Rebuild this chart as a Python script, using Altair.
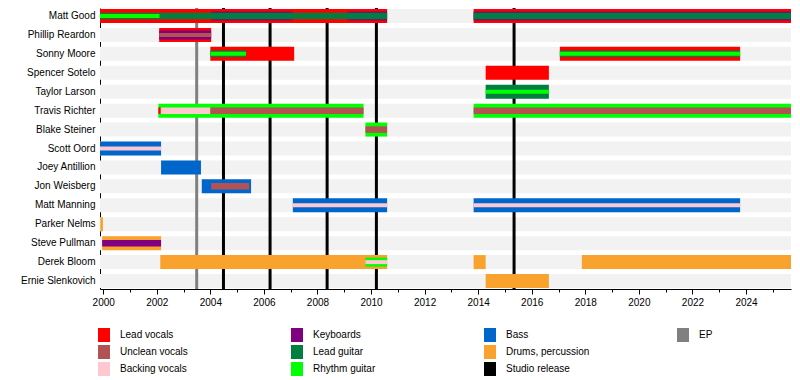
import altair as alt
import pandas as pd

# ---------------- data ----------------
members = ["Matt Good", "Phillip Reardon", "Sonny Moore", "Spencer Sotelo",
           "Taylor Larson", "Travis Richter", "Blake Steiner", "Scott Oord",
           "Joey Antillion", "Jon Weisberg", "Matt Manning", "Parker Nelms",
           "Steve Pullman", "Derek Bloom", "Ernie Slenkovich"]

t_start = 1999.88
t_end = 2025.68

# legend order (filled column by column, 3 rows; the blank keeps the grid even)
legend_roles = ["Lead vocals", "Unclean vocals", "Backing vocals",
                "Keyboards", "Lead guitar", "Rhythm guitar",
                "Bass", "Drums, percussion", "Studio release",
                "EP", " "]
legend_colors = ["#FF0000", "#B25252", "#FFC8D0",
                 "#800080", "#007F3F", "#00FF00",
                 "#0066CC", "#FAA22E", "#000000",
                 "#808080", "transparent"]

# membership segments: member, role, start, end, layer (0 = main bar, 1..3 = inner bars)
seg_member = [
    "Matt Good", "Matt Good", "Matt Good", "Matt Good", "Matt Good", "Matt Good", "Matt Good", "Matt Good",
    "Phillip Reardon", "Phillip Reardon", "Phillip Reardon",
    "Sonny Moore", "Sonny Moore", "Sonny Moore", "Sonny Moore", "Sonny Moore", "Sonny Moore",
    "Spencer Sotelo",
    "Taylor Larson", "Taylor Larson",
    "Travis Richter", "Travis Richter", "Travis Richter", "Travis Richter", "Travis Richter", "Travis Richter",
    "Blake Steiner", "Blake Steiner",
    "Scott Oord", "Scott Oord",
    "Joey Antillion",
    "Jon Weisberg", "Jon Weisberg",
    "Matt Manning", "Matt Manning", "Matt Manning", "Matt Manning",
    "Parker Nelms",
    "Steve Pullman", "Steve Pullman",
    "Derek Bloom", "Derek Bloom", "Derek Bloom", "Derek Bloom", "Derek Bloom",
    "Ernie Slenkovich",
]
seg_role = [
    "Lead vocals", "Lead vocals", "Keyboards", "Keyboards", "Keyboards", "Lead guitar", "Lead guitar", "Rhythm guitar",
    "Lead vocals", "Keyboards", "Unclean vocals",
    "Lead vocals", "Lead guitar", "Rhythm guitar", "Lead vocals", "Lead guitar", "Rhythm guitar",
    "Lead vocals",
    "Lead guitar", "Rhythm guitar",
    "Rhythm guitar", "Lead vocals", "Backing vocals", "Unclean vocals", "Rhythm guitar", "Unclean vocals",
    "Rhythm guitar", "Unclean vocals",
    "Bass", "Backing vocals",
    "Bass",
    "Bass", "Unclean vocals",
    "Bass", "Bass", "Backing vocals", "Backing vocals",
    "Drums, percussion",
    "Drums, percussion", "Keyboards",
    "Drums, percussion", "Drums, percussion", "Drums, percussion", "Rhythm guitar", "Backing vocals",
    "Drums, percussion",
]
seg_start = [
    1999.88, 2013.83, 2004.04, 2009.12, 2013.83, 1999.88, 2013.83, 1999.88,
    2002.09, 2002.09, 2002.09,
    2004.00, 2004.00, 2004.00, 2017.05, 2017.05, 2017.05,
    2014.28,
    2014.28, 2014.28,
    2002.06, 2002.06, 2002.15, 2004.00, 2013.83, 2013.83,
    2009.79, 2009.79,
    1999.88, 1999.88,
    2002.16,
    2003.68, 2004.03,
    2007.08, 2013.83, 2007.08, 2013.83,
    1999.89,
    1999.96, 1999.96,
    2002.13, 2013.83, 2017.87, 2009.79, 2009.79,
    2014.28,
]
seg_end = [
    2010.60, 2025.68, 2007.07, 2010.60, 2025.68, 2010.60, 2025.68, 2002.10,
    2004.03, 2004.03, 2004.03,
    2007.13, 2005.33, 2005.33, 2023.78, 2023.78, 2023.78,
    2016.64,
    2016.64, 2016.64,
    2009.72, 2002.15, 2004.00, 2009.72, 2025.68, 2025.68,
    2010.60, 2010.60,
    2002.16, 2002.16,
    2003.65,
    2005.52, 2005.45,
    2010.60, 2023.78, 2010.60, 2023.78,
    1999.99,
    2002.16, 2002.16,
    2010.60, 2014.28, 2025.68, 2010.60, 2010.60,
    2016.64,
]
seg_layer = [
    0, 0, 1, 1, 1, 2, 2, 3,
    0, 1, 3,
    0, 2, 3, 0, 2, 3,
    0,
    0, 3,
    0, 2, 2, 2, 0, 2,
    0, 2,
    0, 3,
    0,
    0, 2,
    0, 0, 3, 3,
    0,
    0, 2,
    0, 0, 0, 1, 3,
    0,
]

release_year = [2003.49, 2004.49, 2006.23, 2008.36, 2010.20, 2015.34]
release_type = ["EP", "Studio release", "Studio release", "Studio release",
                "Studio release", "Studio release"]

# ---------------- tables ----------------
thickness = {0: 14, 1: 9, 2: 6.5, 3: 4}
seg = pd.DataFrame({"member": seg_member, "role": seg_role,
                    "start": seg_start, "end": seg_end, "layer": seg_layer})
seg["thick"] = seg["layer"].map(thickness)
seg = seg.sort_values("layer", kind="stable").reset_index(drop=True)

bg = pd.DataFrame({"member": members, "start": t_start, "end": t_end})
rel = pd.DataFrame({"start": release_year, "type": release_type})

FONT = "Liberation Sans"

xscale = alt.Scale(domain=[t_start, t_end], nice=False, zero=False)
xaxis = alt.Axis(values=list(range(2000, 2026)), format="d", title=None, grid=False,
                 labelExpr="datum.value % 2 == 0 ? datum.label : ''",
                 tickSize={"condition": {"test": "datum.value % 2 == 0", "value": 5}, "value": 3},
                 tickColor="#000", domainColor="#000", labelColor="#000",
                 labelFont=FONT, labelFontSize=10, labelPadding=3)
yenc = alt.Y("member:N", sort=members,
             scale=alt.Scale(domain=members, paddingInner=0.26, paddingOuter=0.05),
             axis=alt.Axis(title=None, ticks=False, labelFont=FONT, labelFontSize=10,
                           labelColor="#000", domainColor="#000", labelPadding=5))

background = alt.Chart(bg).mark_bar(color="#F2F2F2", size=14).encode(
    x=alt.X("start:Q", scale=xscale, axis=xaxis),
    x2="end:Q",
    y=yenc,
)

rules = alt.Chart(rel).mark_rule(strokeWidth=3).encode(
    x=alt.X("start:Q", scale=xscale, axis=xaxis),
    stroke=alt.Stroke("type:N",
                      scale=alt.Scale(domain=["EP", "Studio release"], range=["#808080", "#000000"]),
                      legend=None),
)

bars = alt.Chart(seg).mark_bar().encode(
    x=alt.X("start:Q", scale=xscale, axis=xaxis),
    x2="end:Q",
    y=yenc,
    size=alt.Size("thick:Q", scale=None, legend=None),
    color=alt.Color("role:N",
                    scale=alt.Scale(domain=legend_roles, range=legend_colors),
                    legend=alt.Legend(title=None, orient="none", legendX=-3, legendY=320,
                                      columns=4, gridAlign="all", columnPadding=86,
                                      rowPadding=3, symbolType="M-0.86,-1H0.86V1H-0.86Z",
                                      symbolSize=196, symbolStrokeWidth=0, symbolOpacity=1,
                                      labelOffset=9, labelFont=FONT, labelFontSize=10,
                                      labelColor="#000")),
)

chart = alt.layer(background, rules, bars).properties(
    width=691, height=281,
    padding={"left": 92, "top": 0, "right": 1, "bottom": 90},
    autosize=alt.AutoSizeParams(type="none"),
).configure_view(stroke=None)

chart.save("out.html", embed_options={"renderer": "svg", "actions": False})
